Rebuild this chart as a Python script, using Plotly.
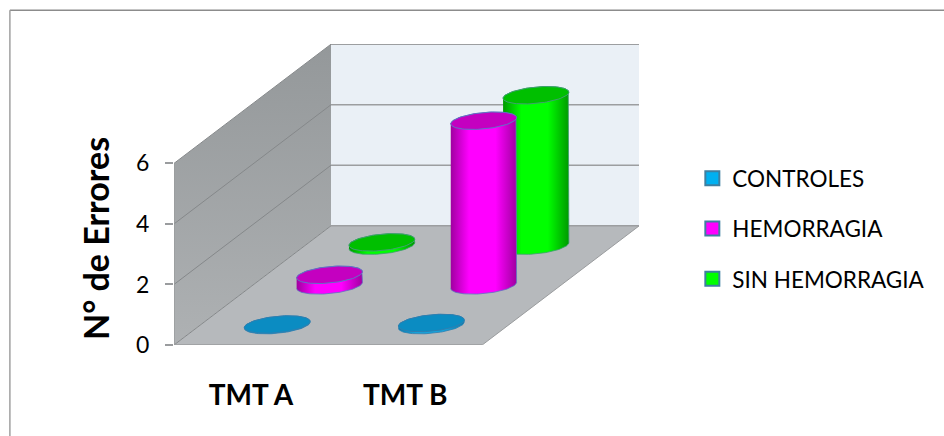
import numpy as np
import plotly.graph_objects as go

# Chart data
CATEGORIES = ["TMT A", "TMT B"]
SERIES = ["CONTROLES", "HEMORRAGIA", "SIN HEMORRAGIA"]
CONTROLES = [0.02, 0.07]
HEMORRAGIA = [0.35, 5.44]
SIN_HEMORRAGIA = [0.11, 4.97]
VALUE_TICKS = [0, 2, 4, 6]

# Colours per series: legend swatch, cap, side gradient stops
STYLE = {
    "CONTROLES": dict(swatch="#00b0f0", cap="#0b8cc2", edge="#0a7fb0", mid="#16a4dc", rim="#2f7fb0"),
    "HEMORRAGIA": dict(swatch="#ff00ff", cap="#c400c0", edge="#a000a0", mid="#ff00ff", rim="#5f74c4"),
    "SIN HEMORRAGIA": dict(swatch="#00ff00", cap="#00bf00", edge="#009a00", mid="#00ff00", rim="#3f9f70"),
}

# Oblique projection: each series step moves right and up on the page
SHEAR_X = 0.3396
SHEAR_Y = 1.3125
WALL_TOP = 6
N_SERIES = len(SERIES)
N_CATS = len(CATEGORIES)
RADIUS_U = 0.20
RADIUS_D = 0.22


def project(u, d, v):
    return u + np.asarray(d) * SHEAR_X, np.asarray(v) + np.asarray(d) * SHEAR_Y


def poly(points, fill=None, gradient=None, line="rgba(0,0,0,0)", width=0):
    xs, ys = zip(*[project(*p) for p in points])
    kw = dict(fillgradient=gradient) if gradient else dict(fillcolor=fill)
    return go.Scatter(x=list(xs), y=list(ys), mode="lines", fill="toself",
                      line=dict(color=line, width=width), showlegend=False,
                      hoverinfo="skip", cliponaxis=False, **kw)


def segment(a, b, color="#9a9c9e", width=1.3):
    xs, ys = zip(project(*a), project(*b))
    return go.Scatter(x=list(xs), y=list(ys), mode="lines", line=dict(color=color, width=width),
                      showlegend=False, hoverinfo="skip", cliponaxis=False)


def arc(u0, d0, v, t):
    return project(u0 + RADIUS_U * np.cos(t), d0 + RADIUS_D * np.sin(t), np.full_like(t, v, dtype=float))


def cylinder(cat_idx, ser_idx, value, style):
    u0, d0 = cat_idx + 0.5, ser_idx + 0.5
    t0 = np.arctan2(RADIUS_D * SHEAR_X, RADIUS_U)
    base_x, base_y = arc(u0, d0, 0, np.linspace(t0 + np.pi, t0 + 2 * np.pi, 50))
    top_x, top_y = arc(u0, d0, value, np.linspace(t0, t0 + np.pi, 50))
    ring_x, ring_y = arc(u0, d0, value, np.linspace(0, 2 * np.pi, 100))
    side = go.Scatter(
        x=np.r_[base_x, top_x], y=np.r_[base_y, top_y], mode="lines", fill="toself",
        line=dict(color=style["rim"], width=0.8),
        fillgradient=dict(type="horizontal", colorscale=[
            [0, style["edge"]], [0.28, style["mid"]], [0.68, style["mid"]], [1, style["edge"]]]),
        showlegend=False, hoverinfo="skip", cliponaxis=False)
    cap = go.Scatter(
        x=ring_x, y=ring_y, mode="lines", fill="toself", fillcolor=style["cap"],
        line=dict(color=style["rim"], width=1),
        showlegend=False, hoverinfo="skip", cliponaxis=False)
    return [side, cap]


fig = go.Figure()

# Walls and floor of the box
fig.add_trace(poly([(0, 0, 0), (0, N_SERIES, 0), (0, N_SERIES, WALL_TOP), (0, 0, WALL_TOP)],
                   gradient=dict(type="vertical", colorscale=[[0, "#aeb1b3"], [1, "#94989a"]])))
fig.add_trace(poly([(0, N_SERIES, 0), (N_CATS, N_SERIES, 0), (N_CATS, N_SERIES, WALL_TOP), (0, N_SERIES, WALL_TOP)],
                   fill="#eaf0f6"))
fig.add_trace(poly([(0, 0, 0), (N_CATS, 0, 0), (N_CATS, N_SERIES, 0), (0, N_SERIES, 0)], fill="#b6b9bc"))

# Gridlines run along the side wall and across the back wall
for v in VALUE_TICKS:
    fig.add_trace(segment((0, 0, v), (0, N_SERIES, v), color="#85888a", width=1))
    fig.add_trace(segment((0, N_SERIES, v), (N_CATS, N_SERIES, v), color="#9c9ea0", width=1.4))
fig.add_trace(segment((0, 0, 0), (0, 0, WALL_TOP), color="#9a9c9e", width=1.5))
fig.add_trace(segment((0, 0, 0), (N_CATS, 0, 0), color="#9a9c9e", width=1.5))
fig.add_trace(segment((N_CATS, 0, 0), (N_CATS, N_SERIES, 0), color="#9a9c9e", width=1))

# Cylinders, painted from the back row to the front row
VALUES = {"CONTROLES": CONTROLES, "HEMORRAGIA": HEMORRAGIA, "SIN HEMORRAGIA": SIN_HEMORRAGIA}
for s in range(N_SERIES - 1, -1, -1):
    name = SERIES[s]
    for c, val in enumerate(VALUES[name]):
        fig.add_traces(cylinder(c, s, val, STYLE[name]))

# Legend entries
for name in SERIES:
    fig.add_trace(go.Scatter(
        x=[None], y=[None], mode="markers", name=name, legendgroup=name,
        marker=dict(symbol="square", size=14, color=STYLE[name]["swatch"],
                    line=dict(color="#3f7fa0", width=2))))

PLOT_L, PLOT_R, PLOT_T, PLOT_B = 174, 638.7, 43.7, 345
PLOT_W, PLOT_H = PLOT_R - PLOT_L, PLOT_B - PLOT_T
FONT = "Lato, 'Open Sans', sans-serif"
TEXT = "#000000"

fig.update_layout(
    width=944, height=436, autosize=False,
    paper_bgcolor="#ffffff", plot_bgcolor="rgba(0,0,0,0)",
    margin=dict(l=PLOT_L, r=944 - PLOT_R, t=PLOT_T, b=436 - PLOT_B, autoexpand=False),
    font=dict(family=FONT, color=TEXT),
    xaxis=dict(range=[0, PLOT_W / 154], tickmode="array", tickvals=[i + 0.5 for i in range(N_CATS)],
               ticktext=[f"<b>{c}</b>" for c in CATEGORIES], ticks="", showgrid=False, zeroline=False,
               showline=False, tickfont=dict(size=28, family=FONT), ticklabelstandoff=31, fixedrange=True),
    yaxis=dict(range=[0, PLOT_H / 30.3], tickmode="array", tickvals=VALUE_TICKS, ticks="outside",
               ticklen=8, tickwidth=1.5, tickcolor="#9a9c9e", showgrid=False, zeroline=False,
               showline=False, tickfont=dict(size=23, family=FONT), ticklabelstandoff=11, fixedrange=True),
    legend=dict(x=(692 - PLOT_L) / PLOT_W, y=(PLOT_B - 157) / PLOT_H, xanchor="left", yanchor="top",
                font=dict(size=22.5, family=FONT), tracegroupgap=18, traceorder="grouped",
                bgcolor="rgba(0,0,0,0)", itemclick=False, itemdoubleclick=False),
    annotations=[dict(text="<b>N° de Errores</b>", textangle=-90, xref="paper", yref="paper",
                      x=(95 - PLOT_L) / PLOT_W, y=(PLOT_B - 238) / PLOT_H, showarrow=False,
                      xanchor="center", yanchor="middle",
                      font=dict(size=34, family=FONT, color=TEXT))],
    # Outer frame: only its top and left edges are visible
    shapes=[
        dict(type="line", xref="paper", yref="paper", x0=(10 - PLOT_L) / PLOT_W, x1=(944 - PLOT_L) / PLOT_W,
             y0=(PLOT_B - 10) / PLOT_H, y1=(PLOT_B - 10) / PLOT_H, line=dict(color="#8c8c8c", width=1.5)),
        dict(type="line", xref="paper", yref="paper", x0=(10 - PLOT_L) / PLOT_W, x1=(10 - PLOT_L) / PLOT_W,
             y0=(PLOT_B - 10) / PLOT_H, y1=(PLOT_B - 436) / PLOT_H, line=dict(color="#a0a0a0", width=1.5)),
    ],
)

fig.write_html("out.html", config=dict(displayModeBar=False))
